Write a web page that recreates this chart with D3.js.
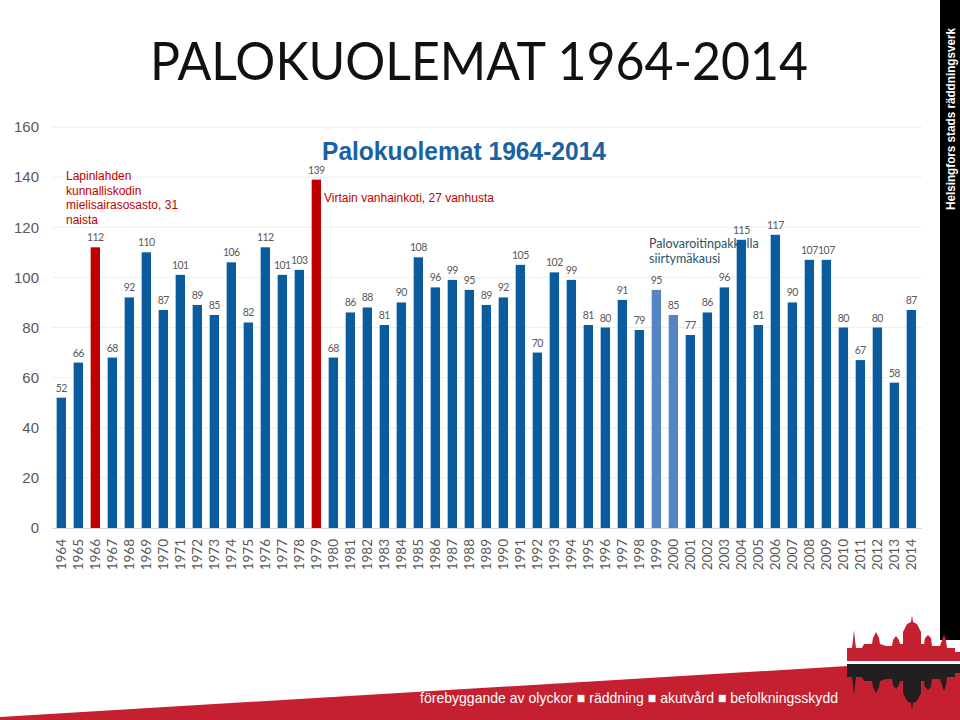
<!DOCTYPE html>
<html><head><meta charset="utf-8">
<script src="https://cdn.jsdelivr.net/npm/d3@7/dist/d3.min.js"></script>
<style>body{margin:0;background:#fff}</style>
</head><body>
<svg id="c" width="960" height="720"></svg>
<script>
const years = [1964,1965,1966,1967,1968,1969,1970,1971,1972,1973,1974,1975,1976,1977,1978,1979,1980,1981,1982,1983,1984,1985,1986,1987,1988,1989,1990,1991,1992,1993,1994,1995,1996,1997,1998,1999,2000,2001,2002,2003,2004,2005,2006,2007,2008,2009,2010,2011,2012,2013,2014];
const deaths = [52,66,112,68,92,110,87,101,89,85,106,82,112,101,103,139,68,86,88,81,90,108,96,99,95,89,92,105,70,102,99,81,80,91,79,95,85,77,86,96,115,81,117,90,107,107,80,67,80,58,87];
const redYears = [1966,1979];
const lightYears = [1999,2000];
const yTicks = [0,20,40,60,80,100,120,140,160];
const titleText = "PALOKUOLEMAT 1964-2014";
const subtitleText = "Palokuolemat 1964-2014";
const noteLapinlahti = ["Lapinlahden","kunnalliskodin","mielisairasosasto, 31","naista"];
const noteVirrat = ["Virtain vanhainkoti, 27 vanhusta"];
const noteAlarm = ["Palovaroitinpakkolla","siirtymäkausi"];
const footerText = "förebyggande av olyckor ■ räddning ■ akutvård ■ befolkningsskydd";
const sideText = "Helsingfors stads räddningsverk";

const svg = d3.select("#c");
const x = d3.scaleBand().domain(years).range([49,923.7]).paddingInner(0.45).paddingOuter(0.45);
const y = d3.scaleLinear().domain([0,160]).range([528,127]);
const data = years.map((yr,i)=>({year:yr, v:deaths[i]}));
const color = d => redYears.includes(d.year) ? "#c00000" : lightYears.includes(d.year) ? "#5584c4" : "#0b5c9e";

// title
svg.append("text").attr("x",150).attr("y",80).attr("font-family","Lato, 'Open Sans', sans-serif")
  .attr("font-size",53).attr("fill","#111").attr("textLength",658).attr("lengthAdjust","spacingAndGlyphs").text(titleText);

// gridlines
svg.append("g").selectAll("line").data(yTicks).join("line")
  .attr("x1",52).attr("x2",922).attr("y1",d=>y(d)).attr("y2",d=>y(d))
  .attr("stroke","#eeeeee").attr("stroke-width",1);

// y axis
const ya = svg.append("g").attr("transform","translate(52,0)")
  .call(d3.axisLeft(y).tickValues(yTicks).tickSize(0).tickPadding(13));
ya.select(".domain").remove();
ya.selectAll("text").attr("font-family","'Liberation Sans', Arial, sans-serif").attr("font-size",15).attr("fill","#595959");

// subtitle
svg.append("text").attr("x",322).attr("y",160).attr("font-family","'Liberation Sans Narrow', 'Liberation Sans', Arial, sans-serif")
  .attr("font-weight","bold").attr("font-size",26).attr("fill","#1a62a3")
  .attr("textLength",284).attr("lengthAdjust","spacingAndGlyphs").text(subtitleText);

// annotations
svg.append("g").selectAll("text").data(noteLapinlahti).join("text")
  .attr("x",66).attr("y",(d,i)=>180+i*14.5).attr("font-family","'Liberation Sans', Arial, sans-serif")
  .attr("font-size",12).attr("fill","#c00000").text(d=>d);
svg.append("g").selectAll("text").data(noteVirrat).join("text")
  .attr("x",324).attr("y",202).attr("font-family","'Liberation Sans', Arial, sans-serif")
  .attr("font-size",12).attr("fill","#c00000").text(d=>d);
svg.append("g").selectAll("text").data(noteAlarm).join("text")
  .attr("x",649).attr("y",(d,i)=>248+i*15).attr("font-family","Lato, 'Open Sans', sans-serif")
  .attr("font-size",12.5).attr("fill","#2a5468").text(d=>d);

// bars
svg.append("g").selectAll("rect").data(data).join("rect")
  .attr("x",d=>x(d.year)).attr("width",x.bandwidth())
  .attr("y",d=>y(d.v)).attr("height",d=>y(0)-y(d.v)).attr("fill",color);

// data labels
svg.append("g").selectAll("text").data(data).join("text")
  .attr("x",d=>x(d.year)+x.bandwidth()/2).attr("y",d=>y(d.v)-6)
  .attr("text-anchor","middle").attr("font-family","Lato, 'Open Sans', sans-serif")
  .attr("font-size",10.5).attr("letter-spacing",-0.5).attr("fill","#595959").text(d=>d.v);

// x axis
const xa = svg.append("g").attr("transform","translate(0,528)").call(d3.axisBottom(x).tickSize(0));
xa.select(".domain").attr("stroke","#d9d9d9").attr("d","M52,0.5H922");
xa.selectAll("text").attr("transform","rotate(-90)").attr("x",-11).attr("y",0).attr("dy","0.35em")
  .attr("text-anchor","end").attr("font-family","Lato, 'Open Sans', sans-serif")
  .attr("font-size",13.5).attr("fill","#595959");

// right side strip
svg.append("rect").attr("x",940).attr("y",0).attr("width",20).attr("height",640).attr("fill","#000");
svg.append("text").attr("transform","translate(955,210) rotate(-90)")
  .attr("font-family","'Liberation Sans', Arial, sans-serif").attr("font-weight","bold")
  .attr("font-size",12.5).attr("fill","#fff").attr("textLength",182).attr("lengthAdjust","spacingAndGlyphs").text(sideText);

// footer band
svg.append("path").attr("d","M0,717 L848,666 L960,664 L960,720 L0,720 Z").attr("fill","#c4202f");
svg.append("text").attr("x",420).attr("y",703).attr("font-family","'Liberation Sans', Arial, sans-serif")
  .attr("font-size",15).attr("fill","#fff").attr("textLength",418).attr("lengthAdjust","spacingAndGlyphs").text(footerText);

// skyline emblem
const sky = [[847,661],[847,648],[852,648],[853,640],[854,630],[855,640],[856,648],[862,648],[864,644],[872,644],[873,638],[876,632],[879,638],[880,644],[886,646],[892,646],[893,640],[896,636],[899,640],[900,644],[903,644],[903,632],[907,624],[911,622],[912,615],[913,622],[917,624],[921,632],[921,644],[924,644],[925,638],[928,635],[931,638],[932,646],[940,646],[942,640],[944,634],[946,640],[947,648],[955,648],[955,652],[960,652],[960,661]];
const skyLine = d3.line();
svg.append("path").attr("d",skyLine(sky)+"Z").attr("fill","#c4202f");
svg.append("rect").attr("x",847).attr("y",664).attr("width",113).attr("height",56).attr("fill","#c4202f");
svg.append("rect").attr("x",847).attr("y",661).attr("width",113).attr("height",3).attr("fill","#fff");
const refl = sky.map(p=>[p[0], Math.min(720, 1325-p[1])]);
refl[0][1]=664; refl[refl.length-1][1]=664;
svg.append("path").attr("d",skyLine(refl)+"Z").attr("fill","#231f20");
</script>
</body></html>
